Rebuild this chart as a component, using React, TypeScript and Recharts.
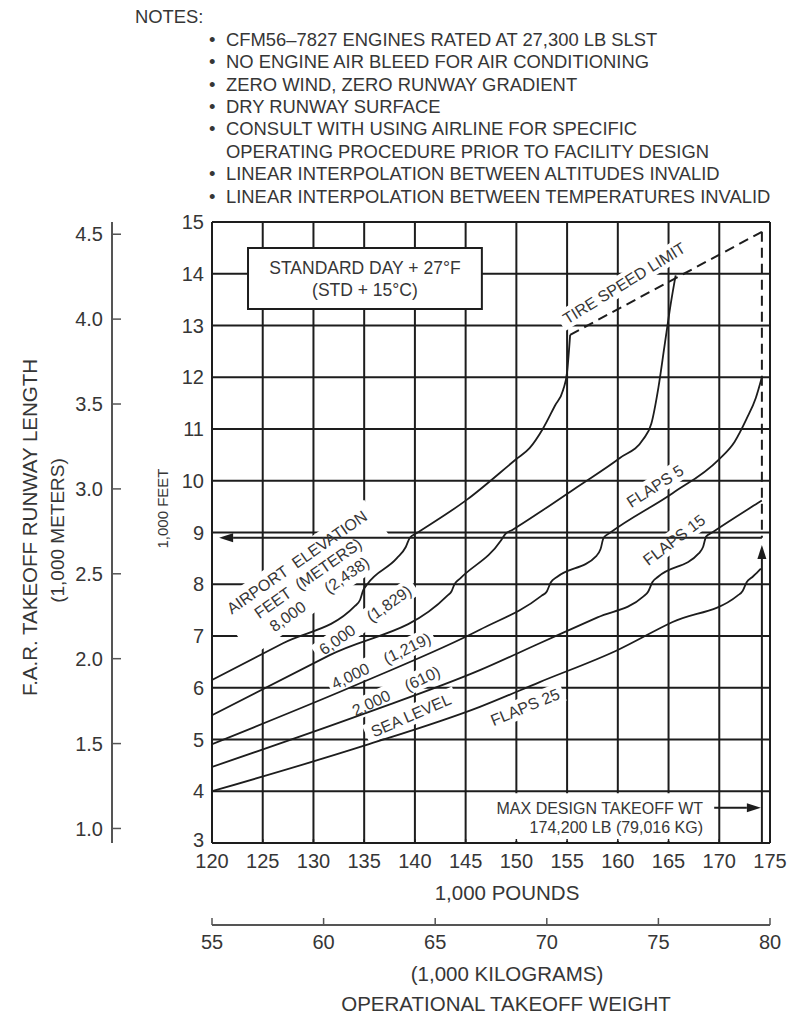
import {
  CartesianGrid,
  Label,
  Line,
  LineChart,
  ReferenceArea,
  ReferenceDot,
  ReferenceLine,
  XAxis,
  YAxis,
} from "recharts";

// Takeoff runway length vs operational takeoff weight, STD + 27°F.
// Curves are [weight (1,000 lb), runway length (1,000 ft)].

const INK = "#1d1d1d";
const GREY = "#555";
const TEXT = "#363636";
const FONT = "'Liberation Sans', Arial, Helvetica, sans-serif";
const FT_PER_M = 3.28084;

const LB_TICKS = [120, 125, 130, 135, 140, 145, 150, 155, 160, 165, 170, 175];
const KG_TICKS = [55, 60, 65, 70, 75, 80];
const FT_TICKS = [3, 4, 5, 6, 7, 8, 9, 10, 11, 12, 13, 14, 15];
const M_TICKS = [1.0, 1.5, 2.0, 2.5, 3.0, 3.5, 4.0, 4.5];

const ALT_8000 = [
  [120, 6.15], [127, 6.86], [134.1, 7.58], [134.6, 7.7], [134.9, 7.88], [135.3, 8.0],
  [138.2, 8.5], [139.1, 8.72], [139.5, 8.9], [140.2, 8.99], [145.1, 9.63], [150, 10.42],
  [151.3, 10.63], [152.6, 11.0], [153.8, 11.45], [154.6, 11.75], [155.0, 12.1], [155.3, 12.82],
];
const ALT_6000 = [
  [120, 5.47], [131.6, 6.63], [143.2, 7.78], [143.6, 7.86], [143.9, 8.0], [144.5, 8.12],
  [148.5, 8.85], [148.9, 8.97], [149.6, 9.05], [152.6, 9.43], [156, 9.88], [160.2, 10.44],
  [162.5, 10.8], [163.3, 11.1], [164.0, 11.8], [164.6, 12.6], [165.2, 13.4], [165.7, 13.97],
];
const ALT_4000 = [
  [120, 4.91], [135, 6.12], [146.4, 7.12], [152.5, 7.78], [153.0, 7.86], [153.4, 8.04],
  [154.0, 8.14], [157.9, 8.55], [158.3, 8.68], [158.6, 8.9], [159.2, 8.99], [165.4, 9.76],
  [169.9, 10.4], [171.5, 10.75], [172.7, 11.2], [173.6, 11.6], [174.2, 12.0],
];
const ALT_2000 = [
  [120, 4.47], [135, 5.5], [146.4, 6.34], [152.3, 6.86], [158, 7.36], [162.5, 7.76],
  [163.0, 7.86], [163.4, 8.04], [164.0, 8.15], [168.0, 8.6], [168.4, 8.72], [168.7, 8.92],
  [169.3, 9.0], [173.8, 9.57], [174.2, 9.62],
];
const SEA_LEVEL = [
  [120, 4.0], [135, 4.88], [146.4, 5.63], [152.3, 6.11], [160, 6.73], [165.4, 7.27],
  [171.8, 7.78], [172.3, 7.87], [172.7, 8.04], [173.2, 8.13], [173.7, 8.22], [174.1, 8.3],
];
const TIRE_LIMIT = [[155.3, 12.82], [174.2, 14.81]];

const MAX_WT = 174.2;
const EXAMPLE_FT = 8.9;

const NOTES = [
  ["CFM56–7827 ENGINES RATED AT 27,300 LB SLST"],
  ["NO ENGINE AIR BLEED FOR AIR CONDITIONING"],
  ["ZERO WIND, ZERO RUNWAY GRADIENT"],
  ["DRY RUNWAY SURFACE"],
  ["CONSULT WITH USING AIRLINE FOR SPECIFIC", "OPERATING PROCEDURE PRIOR TO FACILITY DESIGN"],
  ["LINEAR INTERPOLATION BETWEEN ALTITUDES INVALID"],
  ["LINEAR INTERPOLATION BETWEEN TEMPERATURES INVALID"],
];

// in-chart captions: anchor in data units, angle in degrees (counter-clockwise)
type Tag = {
  at: [number, number];
  lines: string[];
  angle?: number;
  size?: number;
  anchor?: "start" | "middle" | "end";
  box?: [number, number];
};

const CURVE_TAGS: Tag[] = [
  { at: [129.46, 8.12], lines: ["AIRPORT  ELEVATION", "FEET  (METERS)", "8,000      (2,438)"], angle: 35, box: [182, 64] },
  { at: [135.1, 7.31], lines: ["6,000    (1,829)"], angle: 35, box: [120, 20] },
  { at: [136.66, 6.52], lines: ["4,000    (1,219)"], angle: 26, box: [116, 20] },
  { at: [138.14, 5.94], lines: ["2,000    (610)"], angle: 25.5, box: [104, 20] },
  { at: [139.6, 5.47], lines: ["SEA LEVEL"], angle: 23.4, box: [98, 20] },
  { at: [150.85, 5.63], lines: ["FLAPS 25"], angle: 22.5, box: [82, 20] },
  { at: [165.54, 8.86], lines: ["FLAPS 15"], angle: 37, box: [82, 20] },
  { at: [163.67, 9.9], lines: ["FLAPS 5"], angle: 33, box: [72, 20] },
  { at: [160.61, 13.82], lines: ["TIRE SPEED LIMIT"], angle: 31.6, box: [150, 20] },
];

const MAX_TAGS: Tag[] = [
  { at: [168.4, 3.68], lines: ["MAX DESIGN TAKEOFF WT"], anchor: "end" },
  { at: [168.4, 3.31], lines: ["174,200 LB (79,016 KG)"], anchor: "end" },
];

const toPoints = (rows: number[][]) => rows.map(([x, y]) => ({ x, y }));

const CURVES = [
  { name: "8,000 ft", data: toPoints(ALT_8000) },
  { name: "6,000 ft", data: toPoints(ALT_6000) },
  { name: "4,000 ft", data: toPoints(ALT_4000) },
  { name: "2,000 ft", data: toPoints(ALT_2000) },
  { name: "Sea level", data: toPoints(SEA_LEVEL) },
];

// chart-level rows only feed the kilogram scale
const KG_ROWS = KG_TICKS.map((kg) => ({ kg }));

const tickStyle = { fill: TEXT, fontSize: 20, fontFamily: FONT };
const labelStyle = { fill: TEXT, fontSize: 20.5, fontFamily: FONT };

// feet tick: the bottom "3" sits a little higher so it clears the "120" below it
function FeetTick(p: any) {
  const v = p.payload.value;
  return (
    <text
      x={p.x}
      y={p.y}
      dy={v === FT_TICKS[0] ? "0.2em" : "0.355em"}
      textAnchor="end"
      {...tickStyle}
    >
      {v}
    </text>
  );
}

// white patch behind a caption, so grid lines break around it
function tagBox(t: Tag) {
  const [w, h] = t.box ?? [0, 0];
  return (p: any) => (
    <rect
      x={p.cx - w / 2}
      y={p.cy - h / 2}
      width={w}
      height={h}
      fill="#fff"
      transform={`rotate(${-(t.angle ?? 0)} ${p.cx} ${p.cy})`}
    />
  );
}

function tagText(t: Tag) {
  const size = t.size ?? 16;
  const lh = size * 1.22;
  return (p: any) => (
    <text
      transform={`translate(${p.cx} ${p.cy}) rotate(${-(t.angle ?? 0)})`}
      textAnchor={t.anchor ?? "middle"}
      fontSize={size}
      fontFamily={FONT}
      fill={TEXT}
      style={{ whiteSpace: "pre" }}
    >
      {t.lines.map((s, i) => (
        <tspan key={i} x={0} y={(i - (t.lines.length - 1) / 2) * lh} dy="0.36em">
          {s}
        </tspan>
      ))}
    </text>
  );
}

// line with a filled arrowhead at (x2, y2)
function arrow(p: any) {
  const { x1, y1, x2, y2 } = p;
  const a = Math.atan2(y2 - y1, x2 - x1);
  const len = 14;
  const half = 4.5;
  const bx = x2 - len * Math.cos(a);
  const by = y2 - len * Math.sin(a);
  const nx = -Math.sin(a) * half;
  const ny = Math.cos(a) * half;
  return (
    <g>
      <line x1={x1} y1={y1} x2={bx} y2={by} stroke={INK} strokeWidth={2} />
      <polygon points={`${x2},${y2} ${bx + nx},${by + ny} ${bx - nx},${by - ny}`} fill={INK} />
    </g>
  );
}

function StdDayText(p: any) {
  const { x, y, width, height } = p.viewBox;
  const cx = x + width / 2;
  const cy = y + height / 2;
  return (
    <text textAnchor="middle" fontSize={17.5} fontFamily={FONT} fill={TEXT}>
      <tspan x={cx} y={cy - 11} dy="0.36em">STANDARD DAY + 27°F</tspan>
      <tspan x={cx} y={cy + 11} dy="0.36em">(STD + 15°C)</tspan>
    </text>
  );
}

function Notes() {
  const lh = 22.4;
  let row = 1;
  return (
    <div
      style={{
        position: "absolute",
        left: 0,
        top: 0,
        fontFamily: FONT,
        fontSize: 18.4,
        color: TEXT,
        lineHeight: `${lh}px`,
        whiteSpace: "nowrap",
      }}
    >
      <div style={{ position: "absolute", left: 135, top: 17 - lh / 2 }}>NOTES:</div>
      {NOTES.map((note, i) =>
        note.map((line, j) => {
          const top = 17.5 + row * lh - lh / 2;
          row += 1;
          return (
            <div key={`${i}-${j}`} style={{ position: "absolute", top, left: 209 }}>
              <span style={{ display: "inline-block", width: 17 }}>{j === 0 ? "•" : ""}</span>
              {line}
            </div>
          );
        })
      )}
    </div>
  );
}

export default function App() {
  return (
    <div
      style={{
        position: "absolute",
        left: 0,
        top: 0,
        width: 790,
        height: 1019,
        background: "#fff",
        overflow: "hidden",
      }}
    >
      <LineChart
        width={790}
        height={1019}
        data={KG_ROWS}
        margin={{ top: 222, right: 20, bottom: 0, left: 0 }}
      >
        <CartesianGrid xAxisId="lb" yAxisId="ft" stroke={INK} strokeWidth={2} />

        <XAxis
          xAxisId="t_kg"
          dataKey="kg"
          type="number"
          domain={[55, 80]}
          ticks={KG_TICKS}
          interval={0}
          allowDataOverflow
          height={94}
          axisLine={{ stroke: GREY, strokeWidth: 2 }}
          tickLine={{ stroke: GREY, strokeWidth: 1.5 }}
          tickSize={-7}
          tickMargin={17}
          tick={tickStyle}
        >
          <Label value="(1,000 KILOGRAMS)" position="insideTop" offset={41} dx={16} {...labelStyle} />
          <Label value="OPERATIONAL TAKEOFF WEIGHT" position="insideTop" offset={71} dx={15} {...labelStyle} />
        </XAxis>
        <XAxis
          xAxisId="lb"
          dataKey="x"
          type="number"
          domain={[120, 175]}
          ticks={LB_TICKS}
          interval={0}
          allowDataOverflow
          height={82}
          axisLine={{ stroke: INK, strokeWidth: 2 }}
          tickLine={{ stroke: INK, strokeWidth: 1.5 }}
          tickSize={-4}
          tickMargin={15}
          tick={tickStyle}
        >
          <Label value="1,000 POUNDS" position="insideTop" offset={42} dx={16} {...labelStyle} />
        </XAxis>

        <YAxis
          yAxisId="ft"
          type="number"
          domain={[3, 15]}
          ticks={FT_TICKS}
          interval={0}
          allowDataOverflow
          width={100}
          axisLine={{ stroke: INK, strokeWidth: 2 }}
          tickLine={false}
          tickSize={0}
          tickMargin={8}
          tick={<FeetTick />}
        >
          <Label value="1,000 FEET" angle={-90} position="center" dx={1} dy={-24} {...labelStyle} fontSize={15} />
        </YAxis>
        <YAxis
          yAxisId="m"
          type="number"
          domain={[3 / FT_PER_M, 15 / FT_PER_M]}
          ticks={M_TICKS}
          interval={0}
          allowDataOverflow
          width={112}
          axisLine={{ stroke: GREY, strokeWidth: 2 }}
          tickLine={{ stroke: GREY, strokeWidth: 1.5 }}
          tickSize={-9}
          tickMargin={18}
          tickFormatter={(v: number) => v.toFixed(1)}
          tick={tickStyle}
        >
          <Label value="F.A.R. TAKEOFF RUNWAY LENGTH" angle={-90} position="center" dx={-26} dy={-5} {...labelStyle} />
          <Label value="(1,000 METERS)" angle={-90} position="center" dx={1} dy={-2} {...labelStyle} fontSize={19} />
        </YAxis>

        <ReferenceLine xAxisId="lb" yAxisId="ft" y={15} stroke={INK} strokeWidth={2} />
        <ReferenceLine xAxisId="lb" yAxisId="ft" x={175} stroke={INK} strokeWidth={2} />

        {CURVE_TAGS.map((t, i) => (
          <ReferenceDot
            key={`box-${i}`}
            xAxisId="lb"
            yAxisId="ft"
            x={t.at[0]}
            y={t.at[1]}
            r={0}
            shape={tagBox(t)}
            zIndex={-50}
          />
        ))}

        <ReferenceArea
          xAxisId="lb"
          yAxisId="ft"
          x1={123.55}
          x2={146.6}
          y1={13.32}
          y2={14.5}
          fill="#fff"
          fillOpacity={1}
          stroke={INK}
          strokeWidth={2}
          label={<StdDayText />}
        />
        <ReferenceArea
          xAxisId="lb"
          yAxisId="ft"
          x1={145.7}
          x2={169.6}
          y1={3.04}
          y2={3.96}
          fill="#fff"
          fillOpacity={1}
          stroke="none"
        />

        {CURVES.map((c) => (
          <Line
            key={c.name}
            name={c.name}
            xAxisId="lb"
            yAxisId="ft"
            data={c.data}
            dataKey="y"
            type="monotone"
            stroke={INK}
            strokeWidth={1.8}
            dot={false}
            isAnimationActive={false}
          />
        ))}
        <Line
          name="Tire speed limit"
          xAxisId="lb"
          yAxisId="ft"
          data={toPoints(TIRE_LIMIT)}
          dataKey="y"
          type="linear"
          stroke={INK}
          strokeWidth={2}
          strokeDasharray="10 6"
          dot={false}
          isAnimationActive={false}
        />

        <ReferenceLine
          xAxisId="lb"
          yAxisId="ft"
          segment={[{ x: MAX_WT, y: 14.81 }, { x: MAX_WT, y: EXAMPLE_FT }]}
          stroke={INK}
          strokeWidth={2}
          strokeDasharray="10 6"
        />
        <ReferenceLine
          xAxisId="lb"
          yAxisId="ft"
          segment={[{ x: MAX_WT, y: 3 }, { x: MAX_WT, y: 8.76 }]}
          shape={arrow}
        />
        <ReferenceLine
          xAxisId="lb"
          yAxisId="ft"
          segment={[{ x: MAX_WT, y: EXAMPLE_FT }, { x: 120.7, y: EXAMPLE_FT }]}
          shape={arrow}
        />
        <ReferenceLine
          xAxisId="lb"
          yAxisId="ft"
          segment={[{ x: 169.5, y: 3.68 }, { x: 174.1, y: 3.68 }]}
          shape={arrow}
        />

        {[...CURVE_TAGS, ...MAX_TAGS].map((t, i) => (
          <ReferenceDot
            key={`tag-${i}`}
            xAxisId="lb"
            yAxisId="ft"
            x={t.at[0]}
            y={t.at[1]}
            r={0}
            shape={tagText(t)}
          />
        ))}
      </LineChart>
      <Notes />
    </div>
  );
}
